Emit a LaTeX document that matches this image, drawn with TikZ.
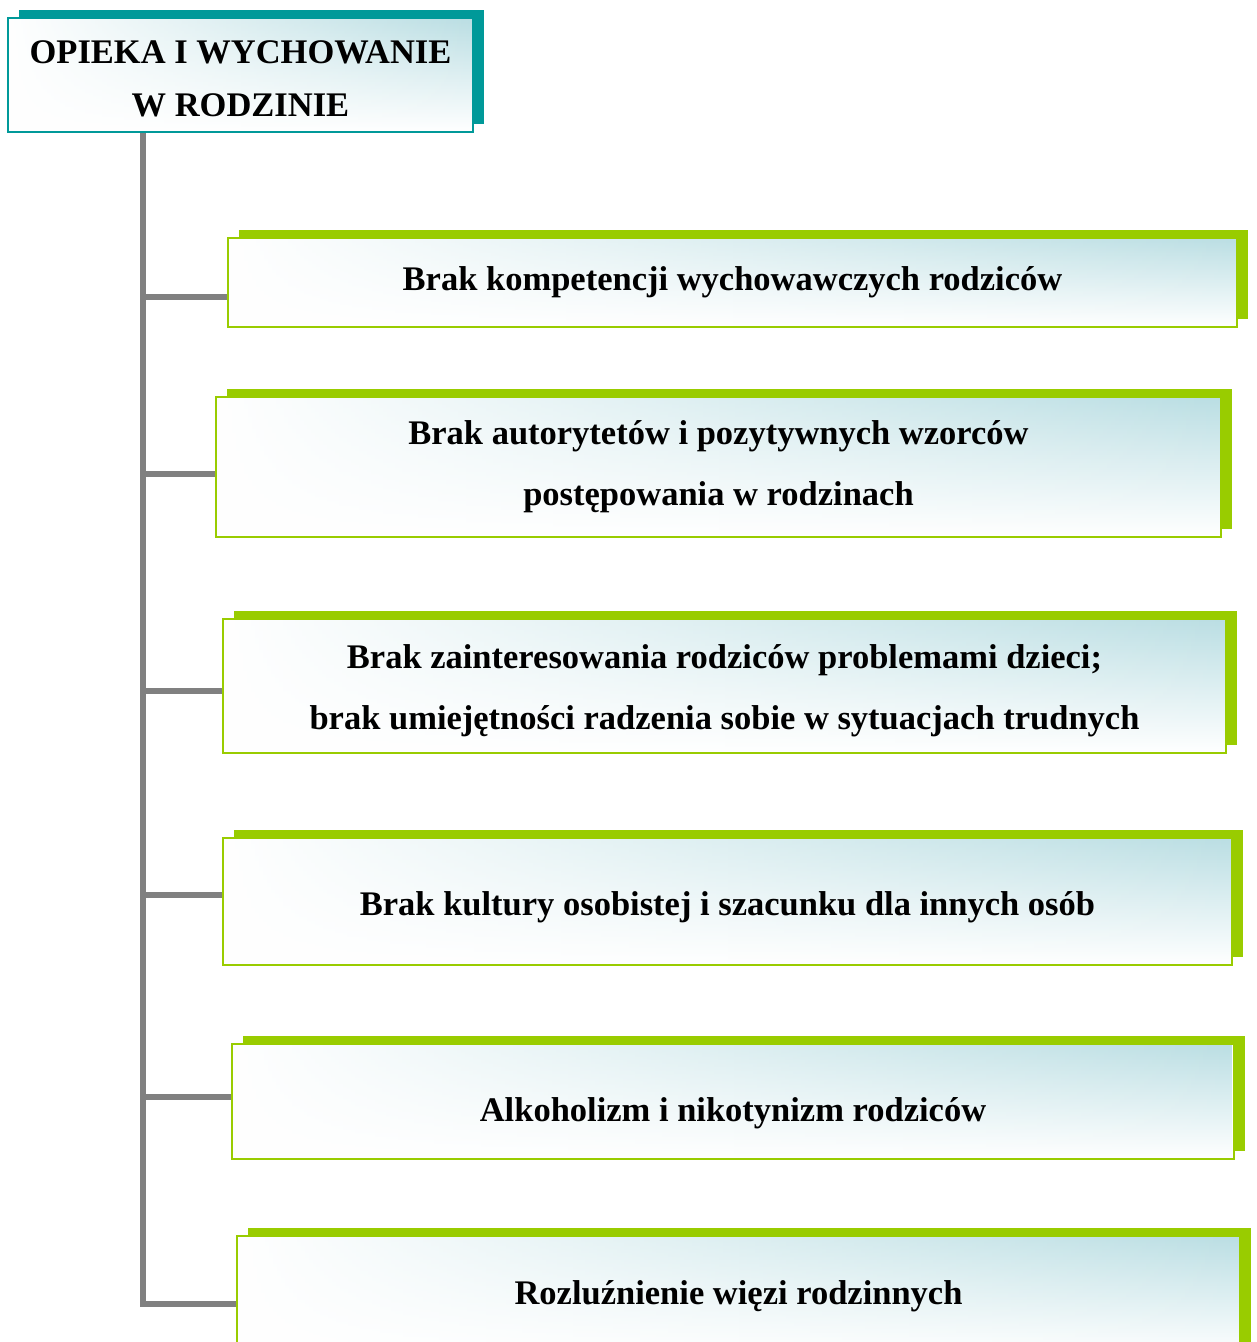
\documentclass[tikz,border=0pt]{standalone}
\usepackage{fontspec}
\setmainfont{Liberation Serif}
\usetikzlibrary{shadows,fadings,backgrounds}
\definecolor{tealc}{RGB}{0,153,153}
\definecolor{limec}{RGB}{153,204,0}
\definecolor{trunkc}{RGB}{128,128,128}
\definecolor{lblue}{RGB}{186,222,227}
\tikzfading[name=fadeleft, left color=transparent!100, middle color=transparent!70, right color=transparent!0]
\tikzset{
  panel/.style={anchor=north west, inner sep=0pt, outer sep=0pt, fill=white, line width=2pt, align=center,
    path picture={\fill[top color=lblue, bottom color=white, path fading=fadeleft]
      (path picture bounding box.south west) rectangle (path picture bounding box.north east);}},
  titlebox/.style={panel, draw=tealc, general shadow={fill=tealc, shadow xshift=11pt, shadow yshift=8pt},
    font=\fontsize{34.5}{53}\selectfont\bfseries},
  itembox/.style={panel, draw=limec, general shadow={fill=limec, shadow xshift=11pt, shadow yshift=8pt},
    font=\fontsize{34.5}{61}\selectfont\bfseries},
  link/.style={draw=trunkc, line width=6pt}
}
\begin{document}
\begin{tikzpicture}[x=1pt,y=-1pt]
\useasboundingbox (0,0) rectangle (1257,1342);
\clip (0,0) rectangle (1257,1342);
\node[titlebox, minimum width=465pt, minimum height=114pt, text height=82pt, text depth=0pt] (top) at (8,18) {OPIEKA I WYCHOWANIE\\W RODZINIE};
\node[itembox, minimum width=1009pt, minimum height=89pt] (b1) at (228,238) {Brak kompetencji wychowawczych rodziców};
\node[itembox, minimum width=1005pt, minimum height=140pt] (b2) at (216,397) {Brak autorytetów i pozytywnych wzorców\\postępowania w rodzinach};
\node[itembox, minimum width=1003pt, minimum height=134pt, text height=94.5pt, text depth=7.5pt] (b3) at (223,619) {Brak zainteresowania rodziców problemami dzieci;\\brak umiejętności radzenia sobie w sytuacjach trudnych};
\node[itembox, minimum width=1009pt, minimum height=127pt, text height=35.5pt, text depth=7.5pt] (b4) at (223,838) {Brak kultury osobistej i szacunku dla innych osób};
\node[itembox, minimum width=1002pt, minimum height=115pt, text height=47.5pt, text depth=7.5pt] (b5) at (232,1044) {Alkoholizm i nikotynizm rodziców};
\node[itembox, minimum width=1003pt, minimum height=120pt] (b6) at (237,1236) {Rozluźnienie więzi rodzinnych};
\coordinate (trunk) at ([xshift=135pt]top.south west);
\begin{scope}[on background layer]
\draw[link] (trunk) |- ([yshift=-14.5pt]b1.west);
\draw[link] (trunk) |- ([yshift=-7pt]b2.west);
\draw[link] (trunk) |- ([yshift=-5pt]b3.west);
\draw[link] (trunk) |- ([yshift=6.5pt]b4.west);
\draw[link] (trunk) |- ([yshift=4.5pt]b5.west);
\draw[link] (trunk) |- ([yshift=-8pt]b6.west);
\end{scope}
\end{tikzpicture}
\end{document}
